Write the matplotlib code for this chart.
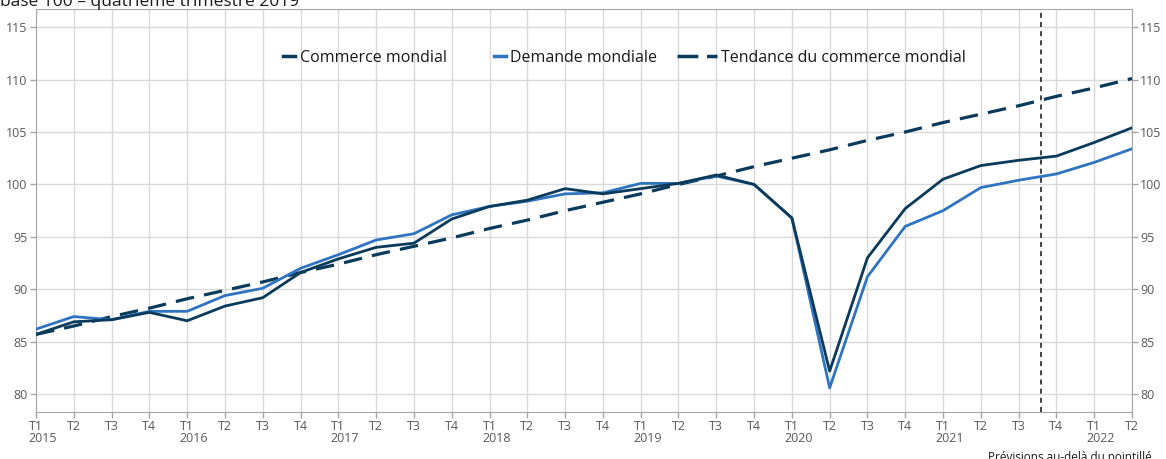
import numpy as np
import matplotlib
matplotlib.use('Agg')
import matplotlib.pyplot as plt
from matplotlib.lines import Line2D
from matplotlib.legend_handler import HandlerLine2D
from matplotlib.transforms import blended_transform_factory

plt.rcParams['font.family'] = ['Open Sans', 'DejaVu Sans']

# quarters from T1 2015 to T2 2022
quarters = ['T1', 'T2', 'T3', 'T4'] * 7 + ['T1', 'T2']
years = ['2015', '2016', '2017', '2018', '2019', '2020', '2021', '2022']

commerce = [85.7, 86.9, 87.1, 87.8, 87.0, 88.4, 89.2, 91.6, 92.9, 94.0,
            94.4, 96.7, 97.9, 98.5, 99.6, 99.1, 99.6, 100.1, 100.9, 100.0,
            96.8, 82.2, 93.0, 97.7, 100.5, 101.8, 102.3, 102.7, 104.0, 105.4]
demande = [86.2, 87.4, 87.1, 87.9, 87.9, 89.4, 90.1, 92.0, 93.3, 94.7,
           95.3, 97.1, 97.9, 98.4, 99.1, 99.2, 100.1, 100.1, 100.8, 100.0,
           96.8, 80.6, 91.2, 96.0, 97.5, 99.7, 100.4, 101.0, 102.1, 103.4]
tendance = [85.7, 86.5, 87.4, 88.2, 89.1, 89.9, 90.7, 91.6, 92.4, 93.3,
            94.1, 94.9, 95.8, 96.6, 97.5, 98.3, 99.1, 100.0, 100.8, 101.7,
            102.5, 103.3, 104.2, 105.0, 105.9, 106.7, 107.5, 108.4, 109.2, 110.1]

DARK = '#0b3a5a'
BLUE = '#2f74c0'
GREY_TXT = '#595959'
FORECAST_POS = 26.6


class LongHandle(HandlerLine2D):
    # legend line that reaches further left than the shared handle box
    def __init__(self, extra, **kw):
        HandlerLine2D.__init__(self, **kw)
        self.extra = extra

    def create_artists(self, legend, orig_handle, xdescent, ydescent, width, height,
                       fontsize, trans):
        y = height / 2 - ydescent
        line = Line2D([-xdescent - self.extra * width, width - xdescent], [y, y])
        self.update_prop(line, orig_handle, legend)
        line.set_transform(trans)
        return [line]


fig = plt.figure(figsize=(11.66, 4.59), dpi=100)
ax = fig.add_axes([36 / 1166, 1 - 412 / 459, 1096 / 1166, (412 - 9.3) / 459])

x = np.arange(len(quarters))
ax.plot(x, tendance, color=DARK, lw=2.3, dashes=(5.8, 3.2), zorder=3)
ax.plot(x, demande, color=BLUE, lw=2.0, zorder=4)
ax.plot(x, commerce, color=DARK, lw=2.0, zorder=5)
ax.axvline(FORECAST_POS, color='#222222', lw=1.2, dashes=(3, 2.5), zorder=6)

ax.set_xlim(0, len(quarters) - 1)
ax.set_ylim(78.3, 116.7)
ax.set_xticks(x)
ax.set_xticklabels(quarters)
ax.set_yticks(np.arange(80, 116, 5))
ax.grid(True, color='#d9d9d9', lw=1.0)
ax.set_axisbelow(True)

for s in ax.spines.values():
    s.set_color('#a6a6a6')
ax.tick_params(axis='both', colors='#a6a6a6', labelcolor=GREY_TXT, labelsize=9,
               length=4, width=1, pad=2)
ax.tick_params(axis='y', labelright=True, right=True)

trans = blended_transform_factory(ax.transData, ax.transAxes)
for i, yr in enumerate(years):
    ax.text(i * 4 - 0.2, -0.067, yr, transform=trans, ha='left', va='center',
            fontsize=9, color=GREY_TXT)

h_com = Line2D([], [], color=DARK, lw=2.5)
h_dem = Line2D([], [], color=BLUE, lw=2.5)
h_ten = Line2D([], [], color=DARK, lw=2.5, dashes=(6, 2.5))
labels = ['Commerce mondial', 'Demande mondiale', 'Tendance du commerce mondial']
leg = ax.legend([h_com, h_dem, h_ten], labels, loc='center',
                bbox_to_anchor=(0.537, 0.879), ncol=3, frameon=False, fontsize=11.5,
                handlelength=0.75, handletextpad=0.3, columnspacing=2.95,
                handler_map={h_ten: LongHandle(2.3)})
for t in leg.get_texts():
    t.set_color('#1a1a1a')

fig.text(0.0, 1 - 6 / 459, 'base 100 – quatrième trimestre 2019', ha='left',
         va='baseline', fontsize=12.5, color='#1a1a1a')
fig.text(1152 / 1166, 1 - 451 / 459, 'Prévisions au-delà du pointillé', ha='right',
         va='top', fontsize=8.5, color='#1a1a1a')

fig.savefig('out.png', dpi=100)
